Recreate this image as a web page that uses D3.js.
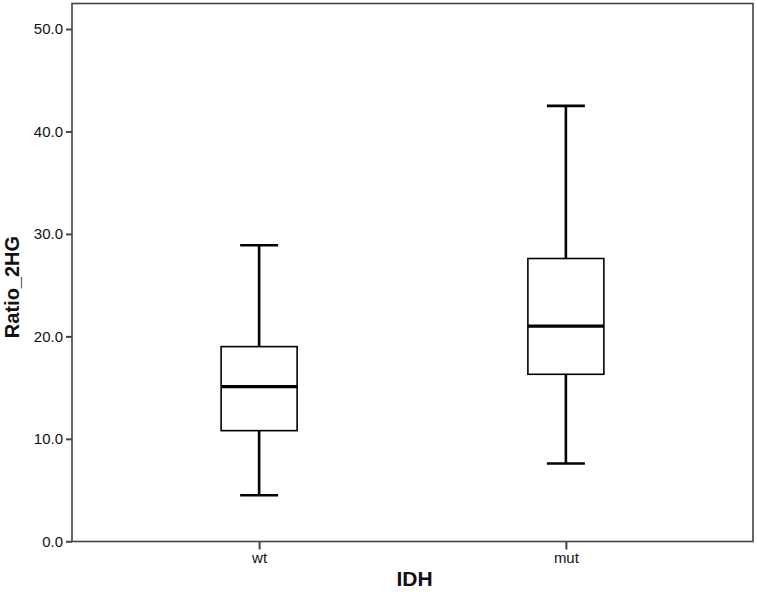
<!DOCTYPE html>
<html>
<head>
<meta charset="utf-8">
<script src="https://cdn.jsdelivr.net/npm/d3@7"></script>
<style>
  body { margin: 0; background: #fff; }
  svg { display: block; font-family: "Liberation Sans", Arial, sans-serif; }
</style>
</head>
<body>
<svg id="chart" width="757" height="592"></svg>
<script>
const categories = ["wt", "mut"];
const whiskerLow  = [4.5, 7.6];
const q1          = [10.8, 16.3];
const median      = [15.1, 21.0];
const q3          = [19.0, 27.6];
const whiskerHigh = [28.9, 42.5];
const yTicks = [0, 10, 20, 30, 40, 50];

const W = 757, H = 592;
const m = { left: 72, right: 4, top: 3.5, bottom: 50.5 };
const svg = d3.select("#chart");

const x = d3.scalePoint().domain(categories).range([m.left, W - m.right]).padding(0.61);
const y = d3.scaleLinear().domain([0, 50]).range([541.3, 29]);

const boxW = 76, capW = 38;
const frameColor = "#444";

// frame
svg.append("rect")
  .attr("x", m.left).attr("y", m.top)
  .attr("width", W - m.right - m.left).attr("height", 541.5 - m.top)
  .attr("fill", "none").attr("stroke", frameColor).attr("stroke-width", 1.6);

// y axis
const yAxis = svg.append("g").attr("transform", `translate(${m.left},0)`)
  .call(d3.axisLeft(y).tickValues(yTicks).tickFormat(d3.format(".1f")).tickSize(6).tickPadding(3));
yAxis.select(".domain").remove();
yAxis.selectAll(".tick line").attr("stroke", frameColor).attr("stroke-width", 2);
yAxis.selectAll(".tick text").attr("font-size", 15).attr("fill", "#111")
  .attr("font-family", "'Liberation Sans', Arial, sans-serif");

// x axis
const xAxis = svg.append("g").attr("transform", `translate(0,541.5)`)
  .call(d3.axisBottom(x).tickSize(8).tickPadding(3));
xAxis.select(".domain").remove();
xAxis.selectAll(".tick line").attr("stroke", frameColor).attr("stroke-width", 2);
xAxis.selectAll(".tick text").attr("font-size", 15).attr("fill", "#111")
  .attr("font-family", "'Liberation Sans', Arial, sans-serif");

// boxes
const data = categories.map((c, i) => ({ c, lo: whiskerLow[i], q1: q1[i], med: median[i], q3: q3[i], hi: whiskerHigh[i] }));
const g = svg.append("g");
data.forEach(d => {
  const cx = x(d.c);
  g.append("line").attr("x1", cx).attr("x2", cx).attr("y1", y(d.q3)).attr("y2", y(d.hi))
    .attr("stroke", "#000").attr("stroke-width", 2.6);
  g.append("line").attr("x1", cx).attr("x2", cx).attr("y1", y(d.q1)).attr("y2", y(d.lo))
    .attr("stroke", "#000").attr("stroke-width", 2.6);
  g.append("line").attr("x1", cx - capW / 2).attr("x2", cx + capW / 2).attr("y1", y(d.hi)).attr("y2", y(d.hi))
    .attr("stroke", "#000").attr("stroke-width", 2.6);
  g.append("line").attr("x1", cx - capW / 2).attr("x2", cx + capW / 2).attr("y1", y(d.lo)).attr("y2", y(d.lo))
    .attr("stroke", "#000").attr("stroke-width", 2.6);
  g.append("rect").attr("x", cx - boxW / 2).attr("y", y(d.q3))
    .attr("width", boxW).attr("height", y(d.q1) - y(d.q3))
    .attr("fill", "#fff").attr("stroke", "#000").attr("stroke-width", 1.6);
  g.append("line").attr("x1", cx - boxW / 2).attr("x2", cx + boxW / 2).attr("y1", y(d.med)).attr("y2", y(d.med))
    .attr("stroke", "#000").attr("stroke-width", 3.2);
});

// axis titles
svg.append("text").attr("x", (m.left + W - m.right) / 2 + 2).attr("y", 586)
  .attr("text-anchor", "middle").attr("font-size", 21).attr("font-weight", "bold").attr("fill", "#111")
  .text("IDH");
svg.append("text").attr("transform", "translate(19,287) rotate(-90)")
  .attr("text-anchor", "middle").attr("font-size", 20).attr("font-weight", "bold").attr("fill", "#111")
  .text("Ratio_2HG");
</script>
</body>
</html>
